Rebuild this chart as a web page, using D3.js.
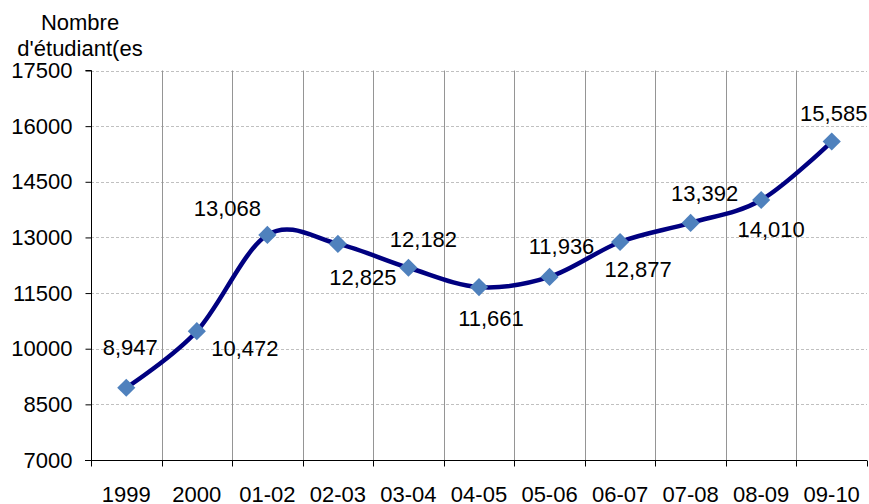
<!DOCTYPE html>
<html>
<head>
<meta charset="utf-8">
<script src="https://cdn.jsdelivr.net/npm/d3@7/dist/d3.min.js"></script>
<style>
  html, body { margin: 0; padding: 0; background: #fff; }
  text { font-family: "Liberation Sans", Arial, sans-serif; fill: #000; }
</style>
</head>
<body>
<svg id="chart" width="869" height="504"></svg>
<script>
const categories = ["1999", "2000", "01-02", "02-03", "03-04", "04-05", "05-06", "06-07", "07-08", "08-09", "09-10"];
const students = [8947, 10472, 13068, 12825, 12182, 11661, 11936, 12877, 13392, 14010, 15585];
const yTicks = [7000, 8500, 10000, 11500, 13000, 14500, 16000, 17500];
const titleLines = ["Nombre", "d'étudiant(es"];
// label placement relative to each point (layout only)
const labelOffsets = [[4, -41], [48, 17], [-40, -27], [25, 33], [15, -29], [12, 31], [12, -31], [18, 27], [14, -30], [10, 29], [2, -28]];

const svg = d3.select("#chart");
const m = { left: 91, right: 867, top: 70.5, bottom: 460 };
const fs = 22;

const x = d3.scaleBand().domain(categories).range([m.left, m.right]);
const y = d3.scaleLinear().domain([7000, 17500]).range([m.bottom, m.top]);

// horizontal dashed gridlines
svg.append("g").selectAll("line").data(yTicks.slice(1)).join("line")
  .attr("x1", m.left).attr("x2", m.right)
  .attr("y1", d => Math.round(y(d)) + 0.5).attr("y2", d => Math.round(y(d)) + 0.5)
  .attr("stroke", "#c0c0c0").attr("stroke-dasharray", "3,2").attr("stroke-width", 1);

// vertical gridlines at band boundaries
svg.append("g").selectAll("line").data(categories.slice(1)).join("line")
  .attr("x1", d => Math.round(x(d)) + 0.5).attr("x2", d => Math.round(x(d)) + 0.5)
  .attr("y1", m.top).attr("y2", m.bottom)
  .attr("stroke", "#959595").attr("stroke-width", 1);

// y axis
const yAxis = d3.axisLeft(y).tickValues(yTicks).tickSize(6).tickPadding(13).tickFormat(d3.format("d"));
const gy = svg.append("g").attr("transform", `translate(${m.left + 0.5},0)`).call(yAxis);
gy.select(".domain").attr("stroke", "#000").attr("d", `M-6,${m.top}H0V${m.bottom}`);
gy.selectAll(".tick line").attr("stroke", "#000");
gy.selectAll(".tick text").attr("font-size", fs).attr("font-family", '"Liberation Sans", Arial, sans-serif').attr("fill", "#000");

// x axis
const gx = svg.append("g").attr("transform", `translate(0,${m.bottom + 0.5})`);
gx.append("line").attr("x1", m.left - 6).attr("x2", m.right).attr("y1", 0).attr("y2", 0).attr("stroke", "#000");
const bounds = categories.map(c => x(c)).concat([m.right]);
gx.selectAll("line.tk").data(bounds).join("line").attr("class", "tk")
  .attr("x1", d => Math.round(d) + 0.5).attr("x2", d => Math.round(d) + 0.5)
  .attr("y1", 0).attr("y2", 6).attr("stroke", "#000");
gx.selectAll("text").data(categories).join("text")
  .attr("x", d => x(d) + x.bandwidth() / 2).attr("y", 41)
  .attr("text-anchor", "middle").attr("font-size", fs).text(d => d);

// line
const pts = categories.map((c, i) => [x(c) + x.bandwidth() / 2, y(students[i])]);
const line = d3.line().curve(d3.curveCatmullRom.alpha(0));
svg.append("path").attr("d", line(pts)).attr("fill", "none")
  .attr("stroke", "#000080").attr("stroke-width", 4.5).attr("stroke-linejoin", "round");

// markers (rotated squares)
svg.append("g").selectAll("path").data(pts).join("path")
  .attr("d", d3.symbol().type(d3.symbolSquare).size(165))
  .attr("transform", d => `translate(${d[0]},${d[1]}) rotate(45)`)
  .attr("fill", "#4f81bd");

// data labels
const fmt = d3.format(",");
svg.append("g").selectAll("text").data(students).join("text")
  .attr("x", (d, i) => pts[i][0] + labelOffsets[i][0])
  .attr("y", (d, i) => pts[i][1] + labelOffsets[i][1])
  .attr("dy", "0.36em").attr("text-anchor", "middle").attr("font-size", fs)
  .text(d => fmt(d));

// y title
svg.append("g").selectAll("text").data(titleLines).join("text")
  .attr("x", 80).attr("y", (d, i) => 22 + i * 26).attr("dy", "0.36em")
  .attr("text-anchor", "middle").attr("font-size", fs).text(d => d);
</script>
</body>
</html>
